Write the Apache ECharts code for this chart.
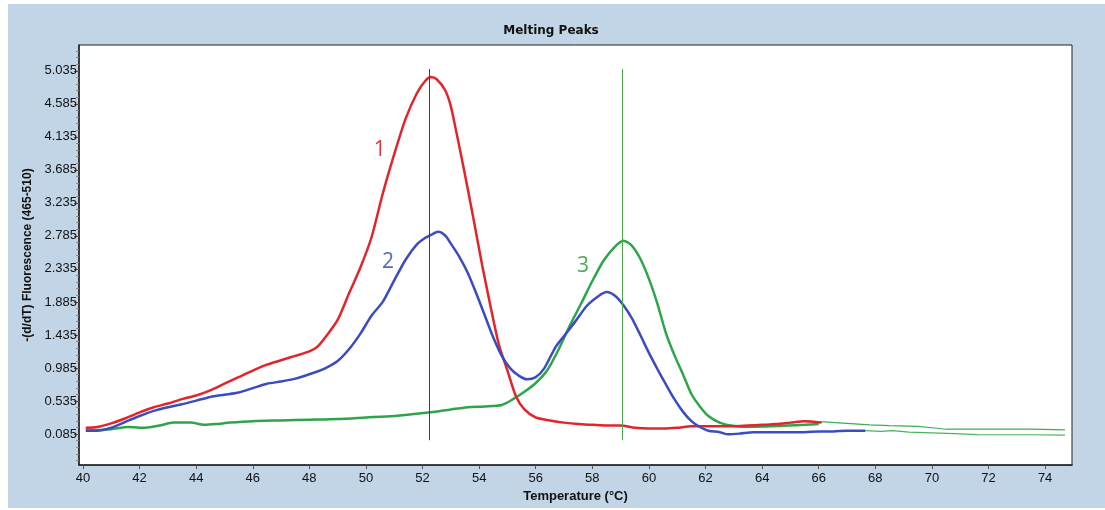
<!DOCTYPE html>
<html>
<head>
<meta charset="utf-8">
<script src="https://cdn.jsdelivr.net/npm/echarts@6/dist/echarts.min.js"></script>
<style>
  html, body { margin: 0; padding: 0; background: #fff; }
  #chart { position: absolute; left: 8px; top: 4px; width: 1097px; height: 504px; background: #c2d5e6; }
</style>
</head>
<body>
<div id="chart"></div>
<script>
// tick labels
const xTicks = [40, 42, 44, 46, 48, 50, 52, 54, 56, 58, 60, 62, 64, 66, 68, 70, 72, 74]
const yTicks = [0.085, 0.535, 0.985, 1.435, 1.885, 2.335, 2.785, 3.235, 3.685, 4.135, 4.585, 5.035]

// curve 1 (red)
const temp1 = [40.1, 40.5, 41.0, 41.5, 42.0, 42.5, 43.0, 43.5, 44.0, 44.5, 45.0, 45.5, 46.0, 46.5, 47.0, 47.5, 48.0, 48.3, 48.6, 49.0, 49.4, 49.8, 50.2, 50.6, 51.0, 51.4, 51.8, 52.1, 52.3, 52.5, 52.8, 53.0, 53.2, 53.5, 53.8, 54.1, 54.4, 54.7, 55.0, 55.3, 55.6, 56.0, 56.5, 57.0, 57.5, 58.0, 58.5, 59.0, 59.5, 60.0, 60.5, 61.0, 61.5, 62.0, 62.5, 63.0, 63.5, 64.0, 64.5, 65.0, 65.5, 66.1]
const val1 = [0.17, 0.18, 0.23, 0.30, 0.38, 0.45, 0.50, 0.56, 0.61, 0.68, 0.77, 0.86, 0.95, 1.03, 1.09, 1.15, 1.21, 1.28, 1.42, 1.64, 2.00, 2.35, 2.77, 3.37, 3.90, 4.38, 4.73, 4.90, 4.95, 4.92, 4.77, 4.55, 4.19, 3.62, 3.02, 2.40, 1.83, 1.30, 0.95, 0.60, 0.42, 0.31, 0.27, 0.24, 0.22, 0.21, 0.20, 0.20, 0.17, 0.16, 0.16, 0.17, 0.19, 0.19, 0.19, 0.19, 0.20, 0.21, 0.22, 0.24, 0.26, 0.24]

// curve 2 (blue)
const temp2 = [40.1, 40.5, 41.0, 41.5, 42.0, 42.5, 43.0, 43.5, 44.0, 44.5, 45.0, 45.5, 46.0, 46.5, 47.0, 47.5, 48.0, 48.5, 49.0, 49.4, 49.8, 50.2, 50.6, 51.0, 51.4, 51.8, 52.1, 52.3, 52.55, 52.8, 53.0, 53.3, 53.6, 53.9, 54.2, 54.5, 54.8, 55.1, 55.4, 55.7, 56.0, 56.3, 56.7, 57.0, 57.4, 57.8, 58.2, 58.5, 58.8, 59.1, 59.4, 59.7, 60.0, 60.3, 60.6, 60.9, 61.2, 61.5, 61.8, 62.1, 62.5, 62.8, 63.2, 63.7, 64.3, 64.9, 65.5, 66.0, 66.5, 67.0, 67.65]
const val2 = [0.13, 0.13, 0.17, 0.25, 0.33, 0.40, 0.45, 0.49, 0.54, 0.59, 0.62, 0.65, 0.71, 0.77, 0.80, 0.84, 0.90, 0.97, 1.08, 1.24, 1.45, 1.70, 1.89, 2.18, 2.46, 2.67, 2.76, 2.80, 2.84, 2.79, 2.68, 2.50, 2.28, 2.00, 1.70, 1.40, 1.15, 0.98, 0.88, 0.83, 0.86, 0.98, 1.27, 1.42, 1.62, 1.83, 1.96, 2.02, 1.97, 1.84, 1.66, 1.43, 1.19, 0.97, 0.76, 0.56, 0.39, 0.26, 0.18, 0.13, 0.11, 0.08, 0.09, 0.11, 0.11, 0.11, 0.11, 0.12, 0.12, 0.13, 0.13]

// curve 3 (green)
const temp3 = [40.1, 40.5, 41.0, 41.6, 42.2, 42.7, 43.2, 43.8, 44.3, 44.7, 45.2, 46.0, 47.0, 48.0, 49.0, 50.0, 51.0, 52.3, 53.0, 53.6, 54.2, 54.8, 55.2, 55.6, 56.0, 56.4, 56.8, 57.2, 57.6, 58.0, 58.4, 58.8, 59.1, 59.4, 59.7, 60.0, 60.3, 60.6, 60.9, 61.2, 61.5, 61.8, 62.1, 62.5, 62.9, 63.3, 63.7, 64.3, 64.9, 65.5, 66.0]
const val3 = [0.15, 0.14, 0.15, 0.18, 0.17, 0.20, 0.24, 0.24, 0.21, 0.22, 0.24, 0.26, 0.27, 0.28, 0.29, 0.31, 0.33, 0.38, 0.42, 0.45, 0.46, 0.48, 0.56, 0.66, 0.78, 0.95, 1.23, 1.56, 1.86, 2.17, 2.45, 2.64, 2.72, 2.65, 2.47, 2.20, 1.86, 1.46, 1.16, 0.90, 0.63, 0.46, 0.33, 0.24, 0.20, 0.185, 0.185, 0.19, 0.20, 0.21, 0.22]

// thin green tails
const tempTailA = [65.6, 66.2, 67.0, 67.8, 68.5, 69.5, 70.0, 70.5, 71.5, 72.5, 73.5, 74.7]
const valTailA = [0.25, 0.25, 0.23, 0.21, 0.20, 0.19, 0.17, 0.15, 0.15, 0.15, 0.15, 0.14]
const tempTailB = [67.65, 68.2, 68.6, 69.2, 70.0, 70.8, 71.6, 72.5, 73.5, 74.7]
const valTailB = [0.13, 0.12, 0.13, 0.11, 0.10, 0.09, 0.077, 0.075, 0.075, 0.07]

// peak markers
const peakTemps = [52.24, 59.06]

const zip = (xs, ys) => xs.map((x, i) => [x, ys[i]])

const minorTicks = []
yTicks.forEach(t => {
  for (let k = 1; k < 5; k++) {
    const v = +(t + k * 0.09).toFixed(3)
    if (v < 5.38) minorTicks.push(v)
  }
})
for (let k = 1; k < 5; k++) minorTicks.push(+(0.085 - k * 0.09).toFixed(3))

const chart = echarts.init(document.getElementById('chart'))
const font = 'Liberation Sans, Arial, sans-serif'

chart.setOption({
  animation: false,
  title: {
    text: 'Melting Peaks',
    left: 538,
    top: 16,
    textAlign: 'center',
    textStyle: { fontFamily: 'DejaVu Sans', fontWeight: 'bold', fontSize: 12, color: '#111' }
  },
  grid: {
    left: 71, top: 41, width: 993, height: 423,
    show: true, backgroundColor: '#fff', borderColor: '#222', borderWidth: 1
  },
  xAxis: {
    type: 'value',
    min: 39.86,
    max: 74.95,
    name: 'Temperature (°C)',
    nameLocation: 'middle',
    nameGap: 24,
    nameTextStyle: { fontFamily: font, fontWeight: 'bold', fontSize: 13, color: '#111' },
    axisLine: { show: true, onZero: false, lineStyle: { color: '#222', width: 1.5 } },
    axisTick: { show: true, length: 4, customValues: xTicks, lineStyle: { color: '#555' } },
    axisLabel: { customValues: xTicks, fontFamily: font, fontSize: 13, color: '#111', margin: 7 },
    splitLine: { show: false }
  },
  yAxis: [
    {
      type: 'value',
      min: -0.339,
      max: 5.387,
      name: '-(d/dT) Fluorescence (465-510)',
      nameLocation: 'middle',
      nameGap: 41,
      nameTextStyle: { fontFamily: font, fontWeight: 'bold', fontSize: 12, color: '#111' },
      axisLine: { show: true, onZero: false, lineStyle: { color: '#222', width: 1.5 } },
      axisTick: { show: true, length: 5, customValues: yTicks, lineStyle: { color: '#555' } },
      axisLabel: {
        customValues: yTicks,
        formatter: v => v.toFixed(3),
        fontFamily: font, fontSize: 13, color: '#111', margin: 2
      },
      splitLine: { show: false }
    },
    {
      type: 'value',
      min: -0.339,
      max: 5.387,
      position: 'left',
      axisLine: { show: false, onZero: false },
      axisTick: { show: true, length: 3, customValues: minorTicks, lineStyle: { color: '#888' } },
      axisLabel: { show: false },
      splitLine: { show: false }
    }
  ],
  series: [
    {
      type: 'line', data: zip(temp1, val1), showSymbol: false, smooth: 0.25,
      lineStyle: { color: '#e2242b', width: 2.5 }, z: 3,
      markPoint: {
        symbolSize: 0,
        label: { show: true, formatter: '1', color: '#e0353a', fontSize: 21, fontFamily: 'Open Sans' },
        data: [{ coord: [50.49, 3.96] }]
      },
      markLine: {
        symbol: 'none', silent: true, label: { show: false },
        lineStyle: { color: '#7a2a22', width: 1, type: 'solid' },
        data: [[{ coord: [peakTemps[0], 0.0] }, { coord: [peakTemps[0], 5.06] }]]
      }
    },
    {
      type: 'line', data: zip(temp2, val2), showSymbol: false, smooth: 0.25,
      lineStyle: { color: '#3b4cc2', width: 2.5 }, z: 4,
      markPoint: {
        symbolSize: 0,
        label: { show: true, formatter: '2', color: '#5a66c0', fontSize: 21, fontFamily: 'Open Sans' },
        data: [{ coord: [50.78, 2.43] }]
      }
    },
    {
      type: 'line', data: zip(temp3, val3), showSymbol: false, smooth: 0.25,
      lineStyle: { color: '#2ea54a', width: 2.5 }, z: 2,
      markPoint: {
        symbolSize: 0,
        label: { show: true, formatter: '3', color: '#4aa85a', fontSize: 21, fontFamily: 'Open Sans' },
        data: [{ coord: [57.67, 2.37] }]
      },
      markLine: {
        symbol: 'none', silent: true, label: { show: false },
        lineStyle: { color: '#4caa48', width: 1, type: 'solid' },
        data: [[{ coord: [peakTemps[1], 0.0] }, { coord: [peakTemps[1], 5.06] }]]
      }
    },
    {
      type: 'line', data: zip(tempTailA, valTailA), showSymbol: false,
      lineStyle: { color: '#3aae52', width: 1.2 }, z: 1
    },
    {
      type: 'line', data: zip(tempTailB, valTailB), showSymbol: false,
      lineStyle: { color: '#48b45c', width: 1.2 }, z: 1
    }
  ]
})
</script>
</body>
</html>
